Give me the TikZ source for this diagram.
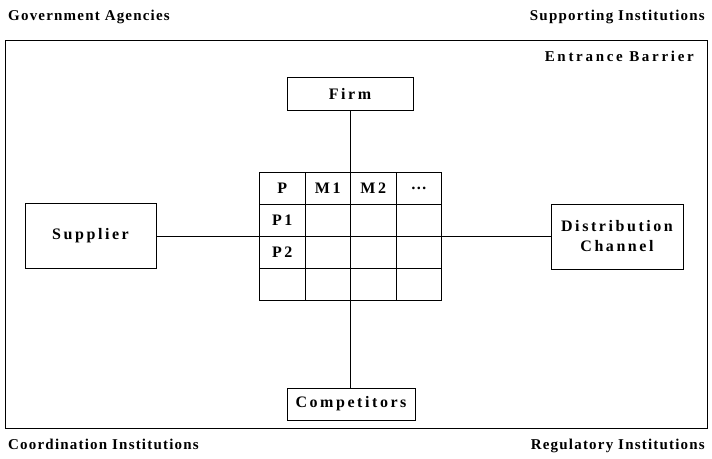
\documentclass[tikz,border=0pt]{standalone}
\usepackage{fontspec}
\setmainfont{Liberation Serif}
\newfontfamily\boxfont[LetterSpace=16]{Liberation Serif}
\newfontfamily\labfont[LetterSpace=8]{Liberation Serif}
\newfontfamily\ebfont[LetterSpace=18]{Liberation Serif}
\begin{document}
\begin{tikzpicture}[x=1pt,y=-1pt,
  box/.style={draw,line width=0.8pt,font=\boxfont\bfseries\fontsize{16}{20}\selectfont,align=center,inner sep=0pt},
  cell/.style={draw,line width=0.8pt,minimum width=45.5pt,minimum height=32pt,inner sep=0pt,font=\boxfont\bfseries\fontsize{16}{18}\selectfont},
  lab/.style={font=\labfont\bfseries\fontsize{15}{17}\selectfont,inner sep=0pt},
  conn/.style={line width=0.8pt}]
\useasboundingbox (0,0) rectangle (712,458);
\draw[line width=0.9pt] (5,40) rectangle (707,428);
\node[lab,anchor=base west] (ga) at (8,20) {Government Agencies};
\node[lab,anchor=base east] (si) at (705,20) {Supporting Institutions};
\node[lab,anchor=base east,font=\ebfont\bfseries\fontsize{15}{17}\selectfont] (eb) at (694,61) {Entrance Barrier};
\node[lab,anchor=base west] (ci) at (8,449) {Coordination Institutions};
\node[lab,anchor=base east] (ri) at (705,449) {Regulatory Institutions};
\node[box,minimum width=126pt,minimum height=33pt] (firm) at (350,93.5) {Firm};
\node[box,minimum width=128pt,minimum height=32pt] (comp) at (351,404) {Competitors};
\node[box,minimum width=131pt,minimum height=65pt] (sup) at (90.5,236) {Supplier};
\node[box,minimum width=132pt,minimum height=65pt] (dist) at (617,236.5) {Distribution\\Channel};
\draw[conn] (sup) -- (sup -| dist.west);
\draw[conn] (firm) -- (firm |- comp.north);
\foreach \r/\ta/\tb/\tc/\td in {1/P/M1/M2/\dots, 2/P1///, 3/P2///, 4////}{
  \node[cell] (c\r1) at (282.25,{156+32*\r}) {\ta};
  \node[cell] (c\r2) at (327.75,{156+32*\r}) {\tb};
  \node[cell] (c\r3) at (373.25,{156+32*\r}) {\tc};
  \node[cell] (c\r4) at (418.75,{156+32*\r}) {\td};
}
\end{tikzpicture}
\end{document}
